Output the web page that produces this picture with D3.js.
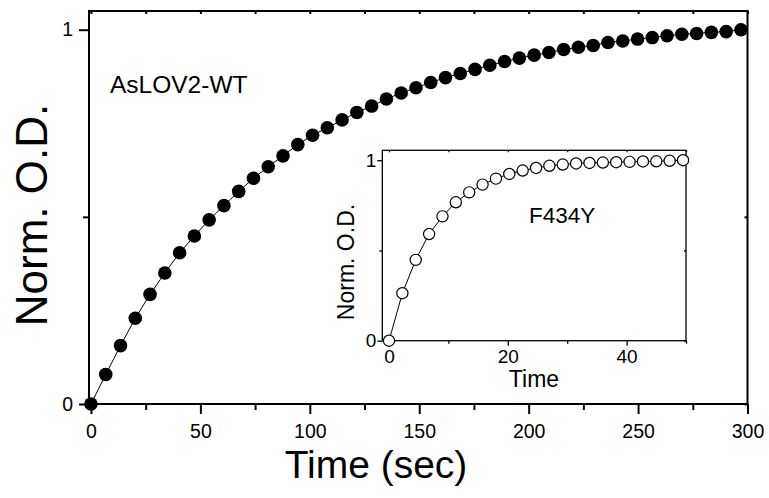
<!DOCTYPE html>
<html><head><meta charset="utf-8">
<script src="https://cdn.jsdelivr.net/npm/d3@7"></script>
<style>
html,body{margin:0;padding:0;background:#fff;}
text{font-family:"Liberation Sans",Arial,sans-serif;fill:#000;}
</style></head>
<body>
<svg id="chart" width="769" height="498"></svg>
<script>
// ---- Main series: AsLOV2-WT (time in sec, normalized O.D.)
const mainTime = d3.range(45).map(i => i * 6.75);
const mainValues = [0, 0.079, 0.156, 0.229, 0.293, 0.350, 0.404, 0.449, 0.492, 0.530,
  0.568, 0.603, 0.634, 0.663, 0.693, 0.718, 0.738, 0.759, 0.779, 0.796,
  0.815, 0.831, 0.845, 0.859, 0.872, 0.883, 0.894, 0.905, 0.915, 0.924,
  0.932, 0.939, 0.947, 0.953, 0.958, 0.966, 0.970, 0.975, 0.979, 0.984,
  0.988, 0.990, 0.993, 0.995, 1.0];
const mainXTicks = [0, 50, 100, 150, 200, 250, 300];
const mainXMinor = [25, 75, 125, 175, 225, 275];
const mainYTicks = [0, 1];
const mainYMinor = [0.5];

// ---- Inset series: F434Y
const insetTime = d3.range(23).map(i => i * 2.25);
const insetValues = [0, 0.263, 0.448, 0.591, 0.689, 0.767, 0.822, 0.865, 0.898, 0.924,
  0.943, 0.957, 0.969, 0.976, 0.982, 0.985, 0.987, 0.989, 0.991, 0.993,
  0.994, 0.997, 1.0];
const insetXTicks = [0, 20, 40];
const insetXMinor = [10, 30, 50];
const insetYTicks = [0, 1];
const insetYMinor = [0.5];

const svg = d3.select("#chart");

function drawPanel(g, cfg) {
  const {x, y, xt, xm, yt, ym, fs, sw, major, minor, pad, ypad, topTick} = cfg;
  const [x0, x1] = x.range();
  const [y0, y1] = y.range();
  g.append("rect").attr("x", x0).attr("y", y1).attr("width", x1 - x0).attr("height", y0 - y1)
    .attr("fill", "#fff");
  const ax = (axis, tr) => {
    const a = g.append("g").attr("transform", tr).call(axis);
    a.select(".domain").remove();
    a.selectAll("line").attr("stroke", "#000").attr("stroke-width", sw);
    a.selectAll("text").style("font-size", fs + "px").attr("fill", "#000");
    return a;
  };
  ax(d3.axisBottom(x).tickValues(xt).tickSize(major).tickPadding(pad).tickFormat(d3.format("d")), `translate(0,${y0})`);
  ax(d3.axisBottom(x).tickValues(xm).tickSize(minor).tickFormat(""), `translate(0,${y0})`);
  ax(d3.axisLeft(y).tickValues(yt).tickSize(major).tickPadding(ypad).tickFormat(d3.format("d")), `translate(${x0},0)`);
  ax(d3.axisLeft(y).tickValues(ym).tickSize(minor).tickFormat(""), `translate(${x0},0)`);
  ax(d3.axisBottom(x).tickValues(xt.concat(xm)).tickSize(topTick).tickFormat(""), `translate(0,${y1})`);
  ax(d3.axisLeft(y).tickValues(yt.concat(ym)).tickSize(topTick).tickFormat(""), `translate(${x1},0)`);
  g.append("rect").attr("x", x0).attr("y", y1).attr("width", x1 - x0).attr("height", y0 - y1)
    .attr("fill", "none").attr("stroke", "#000").attr("stroke-width", sw);
}

// ---- Main panel
const xMain = d3.scaleLinear().domain([-0.9, 300]).range([89, 747.5]);
const yMain = d3.scaleLinear().domain([0, 1.05]).range([404, 11]);
const gMain = svg.append("g");
drawPanel(gMain, {x: xMain, y: yMain, xt: mainXTicks, xm: mainXMinor, yt: mainYTicks, ym: mainYMinor,
  fs: 19.5, sw: 2, major: 10, minor: 6, pad: 10, ypad: 6, topTick: 3});

const mainData = mainTime.map((t, i) => ({t, v: mainValues[i]}));
gMain.append("path").datum(mainData)
  .attr("fill", "none").attr("stroke", "#000").attr("stroke-width", 1)
  .attr("d", d3.line().x(d => xMain(d.t)).y(d => yMain(d.v)));
gMain.selectAll("circle.m").data(mainData).join("circle").attr("class", "m")
  .attr("cx", d => xMain(d.t)).attr("cy", d => yMain(d.v)).attr("r", 6.8).attr("fill", "#000");

gMain.append("text").attr("x", 110).attr("y", 93).style("font-size", "24.5px").text("AsLOV2-WT");
gMain.append("text").attr("x", 376).attr("y", 478).attr("text-anchor", "middle")
  .style("font-size", "39px").text("Time (sec)");
gMain.append("text").attr("transform", "translate(47,215) rotate(-90)").attr("text-anchor", "middle")
  .style("font-size", "44px").text("Norm. O.D.");

// ---- Inset panel
const xIn = d3.scaleLinear().domain([-1.13, 50]).range([382.3, 686]);
const yIn = d3.scaleLinear().domain([0, 1.055]).range([340.7, 150.3]);
const gIn = svg.append("g");
drawPanel(gIn, {x: xIn, y: yIn, xt: insetXTicks, xm: insetXMinor, yt: insetYTicks, ym: insetYMinor,
  fs: 19, sw: 1.3, major: 5, minor: 3, pad: 4, ypad: 1, topTick: 2});

const insetData = insetTime.map((t, i) => ({t, v: insetValues[i]}));
gIn.append("path").datum(insetData)
  .attr("fill", "none").attr("stroke", "#000").attr("stroke-width", 1)
  .attr("d", d3.line().x(d => xIn(d.t)).y(d => yIn(d.v)));
gIn.selectAll("circle.i").data(insetData).join("circle").attr("class", "i")
  .attr("cx", d => xIn(d.t)).attr("cy", d => yIn(d.v)).attr("r", 5.6)
  .attr("fill", "#fff").attr("stroke", "#000").attr("stroke-width", 1.2);

gIn.append("text").attr("x", 529).attr("y", 223).style("font-size", "22.5px").text("F434Y");
gIn.append("text").attr("x", 534).attr("y", 387).attr("text-anchor", "middle")
  .style("font-size", "23px").text("Time");
gIn.append("text").attr("transform", "translate(354,262) rotate(-90)").attr("text-anchor", "middle")
  .style("font-size", "23px").text("Norm. O.D.");
</script>
</body></html>
